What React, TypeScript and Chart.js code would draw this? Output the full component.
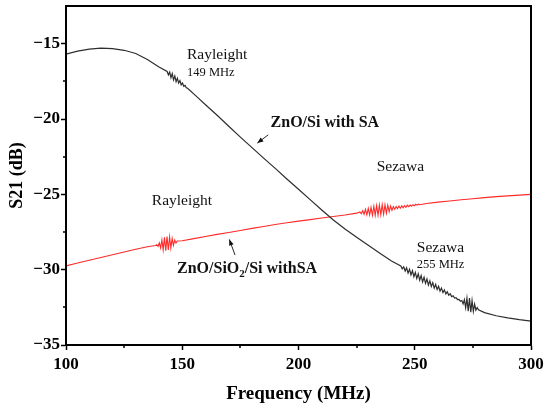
import { useEffect, useRef } from 'react';
import { Chart, registerables } from 'chart.js';

Chart.register(...registerables);

const SERIF = '"Liberation Serif", "Times New Roman", serif';

// ZnO/Si with SA (black trace)
const znoSiFreq = [
  100, 105, 110, 115, 120, 125, 130, 135, 140,
  143.5, 144.05, 144.6, 145.15, 145.7, 146.25, 146.8, 147.35, 147.9, 148.45,
  149, 149.55, 150.1, 150.65, 151.2, 151.75, 152.3,
  156, 160, 165, 170, 175, 180, 185, 190, 195, 200, 205, 210, 215, 220, 225,
  230, 235, 240,
  244, 244.625, 245.25, 245.875, 246.5, 247.125, 247.75, 248.375, 249, 249.625,
  250.25, 250.875, 251.5, 252.125, 252.75, 253.375, 254, 254.625, 255.25, 255.875,
  256.5, 257.125, 257.75, 258.375, 259, 259.625, 260.25, 260.875, 261.5, 262.125,
  262.75, 263.375, 264, 264.625, 265.25, 265.875, 266.5, 267.125, 267.75, 268.375,
  269, 269.625,
  270.25, 270.8, 271.35, 271.9, 272.45, 273, 273.55, 274.1, 274.65, 275.2,
  275.75, 276.3, 276.85, 277.4,
  280, 285, 290, 295, 300,
];
const znoSiS21 = [
  -15.7, -15.5, -15.36, -15.3, -15.33, -15.44, -15.65, -16.05, -16.55,
  -16.85, -17.07, -16.89, -17.26, -16.99, -17.4, -17.14, -17.52, -17.29, -17.62,
  -17.45, -17.73, -17.61, -17.83, -17.77, -17.93, -17.96,
  -18.48, -19.05, -19.75, -20.48, -21.2, -21.9, -22.6, -23.28, -23.98, -24.66,
  -25.35, -26.04, -26.7, -27.3, -27.85,
  -28.38, -28.91, -29.43,
  -29.75, -29.94, -29.81, -30.09, -29.88, -30.23, -29.97, -30.35, -30.07, -30.47,
  -30.18, -30.59, -30.28, -30.7, -30.39, -30.81, -30.5, -30.91, -30.62, -31.02,
  -30.74, -31.12, -30.86, -31.22, -30.98, -31.32, -31.1, -31.42, -31.22, -31.52,
  -31.34, -31.61, -31.47, -31.7, -31.6, -31.79, -31.73, -31.88, -31.86, -31.98,
  -31.97, -32.1,
  -32.05, -32.27, -31.99, -32.53, -31.89, -32.75, -31.89, -32.83, -32.05, -32.77,
  -32.29, -32.69, -32.51, -32.67,
  -32.85, -33.06, -33.2, -33.32, -33.42,
];

// ZnO/SiO2/Si with SA (red trace)
const znoSiO2Freq = [
  100, 105, 110, 115, 120, 125, 130, 135, 138.5,
  139.05, 139.6, 140.15, 140.7, 141.25, 141.8, 142.35, 142.9, 143.45, 144,
  144.55, 145.1, 145.65, 146.2, 146.75, 147.3, 147.85,
  150, 155, 160, 165, 170, 175, 180, 185, 190, 195, 200, 205, 210, 215, 220, 225,
  226.4, 227, 227.6, 228.2, 228.8, 229.4, 230, 230.6, 231.2, 231.8,
  232.4, 233, 233.6, 234.2, 234.8, 235.4, 236, 236.6, 237.2, 237.8,
  238.4, 239, 239.6, 240.2, 240.8, 241.4, 242, 242.6, 243.2, 243.8,
  244.4, 245, 245.6, 246.2, 246.8, 247.4, 248, 248.6, 249.2, 249.8,
  250.4, 251, 251.6, 252.2,
  255, 260, 265, 270, 275, 280, 285, 290, 295, 300,
];
const znoSiO2S21 = [
  -29.75, -29.56, -29.38, -29.19, -29.01, -28.83, -28.65, -28.48, -28.4,
  -28.35, -28.45, -28.22, -28.56, -28.02, -28.69, -27.86, -28.74, -27.8, -28.69,
  -27.83, -28.56, -27.93, -28.39, -28.04, -28.24, -28.1,
  -28.08, -27.94, -27.8, -27.66, -27.53, -27.4, -27.26, -27.13, -27.0, -26.89,
  -26.78, -26.68, -26.57, -26.47, -26.37, -26.25,
  -26.17, -26.29, -26.09, -26.32, -26.0, -26.36, -25.93, -26.37, -25.86, -26.39,
  -25.79, -26.39, -25.75, -26.39, -25.71, -26.36, -25.69, -26.32, -25.69, -26.25,
  -25.72, -26.15, -25.78, -26.06, -25.81, -25.99, -25.81, -25.95, -25.78, -25.92,
  -25.76, -25.89, -25.75, -25.86, -25.72, -25.82, -25.71, -25.79, -25.69, -25.76,
  -25.66, -25.72, -25.65, -25.69,
  -25.61, -25.52, -25.44, -25.36, -25.29, -25.22, -25.15, -25.1, -25.05, -25.0,
];

const xMinorTicks = [125, 175, 225, 275];
const yMinorTicks = [-32.5, -27.5, -22.5, -17.5];

// text notes, placed in data units (MHz, dB) at the left end of the baseline
const notes = [
  { parts: [{ t: 'Rayleight' }], x: 152.05, y: -16.03, size: 15.5, bold: false },
  { parts: [{ t: '149 MHz' }], x: 152.05, y: -17.13, size: 12.5, bold: false },
  { parts: [{ t: 'ZnO/Si with SA' }], x: 188.0, y: -20.55, size: 16, bold: true },
  { parts: [{ t: 'Rayleight' }], x: 136.9, y: -25.7, size: 15.5, bold: false },
  {
    parts: [{ t: 'ZnO/SiO' }, { t: '2', sub: true }, { t: '/Si withSA' }],
    x: 147.75, y: -30.19, size: 16, bold: true,
  },
  { parts: [{ t: 'Sezawa' }], x: 233.65, y: -23.48, size: 15.5, bold: false },
  { parts: [{ t: 'Sezawa' }], x: 250.9, y: -28.8, size: 15.5, bold: false },
  { parts: [{ t: '255 MHz' }], x: 250.9, y: -29.86, size: 12.5, bold: false },
];

// arrows: tail -> tip, data units
const arrows = [
  { from: [187.0, -21.05], to: [182.3, -21.6] },
  { from: [172.7, -29.03], to: [170.25, -27.99] },
];

const toPoints = (xs: number[], ys: number[]) => xs.map((x, i) => ({ x, y: ys[i] }));

const minusLabel = (v: number) => (v < 0 ? '\u2212' + Math.abs(v) : String(v));

const extras = {
  id: 'extras',
  afterDraw(chart: any) {
    const { ctx, chartArea, scales } = chart;
    const xs = scales.x;
    const ys = scales.y;
    ctx.save();

    // frame
    ctx.strokeStyle = '#000';
    ctx.lineWidth = 2;
    ctx.strokeRect(chartArea.left, chartArea.top, chartArea.right - chartArea.left, chartArea.bottom - chartArea.top);

    // minor ticks
    ctx.lineWidth = 1.5;
    ctx.beginPath();
    xMinorTicks.forEach((v) => {
      const px = Math.round(xs.getPixelForValue(v));
      ctx.moveTo(px, chartArea.bottom);
      ctx.lineTo(px, chartArea.bottom + 3);
    });
    yMinorTicks.forEach((v) => {
      const py = Math.round(ys.getPixelForValue(v));
      ctx.moveTo(chartArea.left, py);
      ctx.lineTo(chartArea.left - 3, py);
    });
    ctx.stroke();

    // notes
    ctx.fillStyle = '#111';
    ctx.textAlign = 'left';
    ctx.textBaseline = 'alphabetic';
    notes.forEach((n) => {
      let px = xs.getPixelForValue(n.x);
      const py = ys.getPixelForValue(n.y);
      n.parts.forEach((p: any) => {
        const size = p.sub ? n.size * 0.68 : n.size;
        ctx.font = `${n.bold ? 'bold ' : ''}${size}px ${SERIF}`;
        ctx.fillText(p.t, px, p.sub ? py + 4 : py);
        px += ctx.measureText(p.t).width;
      });
    });

    // arrows
    ctx.strokeStyle = '#111';
    ctx.lineWidth = 0.9;
    arrows.forEach((a) => {
      const x0 = xs.getPixelForValue(a.from[0]);
      const y0 = ys.getPixelForValue(a.from[1]);
      const x1 = xs.getPixelForValue(a.to[0]);
      const y1 = ys.getPixelForValue(a.to[1]);
      const ang = Math.atan2(y1 - y0, x1 - x0);
      ctx.beginPath();
      ctx.moveTo(x0, y0);
      ctx.lineTo(x1, y1);
      ctx.stroke();
      ctx.beginPath();
      ctx.moveTo(x1, y1);
      ctx.lineTo(x1 - 6 * Math.cos(ang) + 2.4 * Math.sin(ang), y1 - 6 * Math.sin(ang) - 2.4 * Math.cos(ang));
      ctx.lineTo(x1 - 6 * Math.cos(ang) - 2.4 * Math.sin(ang), y1 - 6 * Math.sin(ang) + 2.4 * Math.cos(ang));
      ctx.closePath();
      ctx.fill();
    });

    ctx.restore();
  },
};

export default function App() {
  const canvasRef = useRef<HTMLCanvasElement>(null);

  useEffect(() => {
    document.body.style.margin = '0';
    if (!canvasRef.current) return;

    const chart = new Chart(canvasRef.current, {
      type: 'line',
      data: {
        datasets: [
          {
            label: 'ZnO/Si with SA',
            data: toPoints(znoSiFreq, znoSiS21),
            borderColor: '#2e2e2e',
            borderWidth: 1.2,
            pointRadius: 0,
            tension: 0,
          },
          {
            label: 'ZnO/SiO2/Si with SA',
            data: toPoints(znoSiO2Freq, znoSiO2S21),
            borderColor: '#ff2a2a',
            borderWidth: 1.1,
            pointRadius: 0,
            tension: 0,
          },
        ],
      },
      options: {
        animation: false,
        responsive: false,
        layout: { padding: { left: 0, right: 19, top: 6, bottom: 0 } },
        plugins: { legend: { display: false }, tooltip: { enabled: false } },
        scales: {
          x: {
            type: 'linear',
            min: 100,
            max: 300,
            afterFit: (s: any) => {
              s.height = 67;
              s.paddingLeft = 0;
              s.paddingRight = 0;
            },
            ticks: {
              stepSize: 50,
              padding: 4,
              color: '#000',
              font: { family: SERIF, size: 17, weight: 'bold' },
            },
            grid: { drawOnChartArea: false, tickLength: 5, tickWidth: 1.5, tickColor: '#000' },
            border: { color: '#000', width: 2 },
            title: {
              display: true,
              text: 'Frequency (MHz)',
              color: '#000',
              font: { family: SERIF, size: 19, weight: 'bold' },
              padding: { top: 0, bottom: 7 },
            },
          },
          y: {
            type: 'linear',
            min: -35,
            max: -12.5,
            afterFit: (s: any) => {
              s.width = 66;
              s.paddingTop = 0;
              s.paddingBottom = 0;
            },
            ticks: {
              stepSize: 5,
              includeBounds: false,
              padding: 1,
              color: '#000',
              font: { family: SERIF, size: 17, weight: 'bold' },
              callback: (v: any) => minusLabel(Number(v)),
            },
            grid: { drawOnChartArea: false, tickLength: 5, tickWidth: 1.5, tickColor: '#000' },
            border: { color: '#000', width: 2 },
            title: {
              display: true,
              text: 'S21 (dB)',
              color: '#000',
              font: { family: SERIF, size: 18, weight: 'bold' },
              padding: { top: 7, bottom: 0 },
            },
          },
        },
      },
      plugins: [extras],
    });

    return () => {
      chart.destroy();
    };
  }, []);

  return (
    <div style={{ width: 550, height: 412, background: '#fff' }}>
      <canvas ref={canvasRef} width={550} height={412}></canvas>
    </div>
  );
}
